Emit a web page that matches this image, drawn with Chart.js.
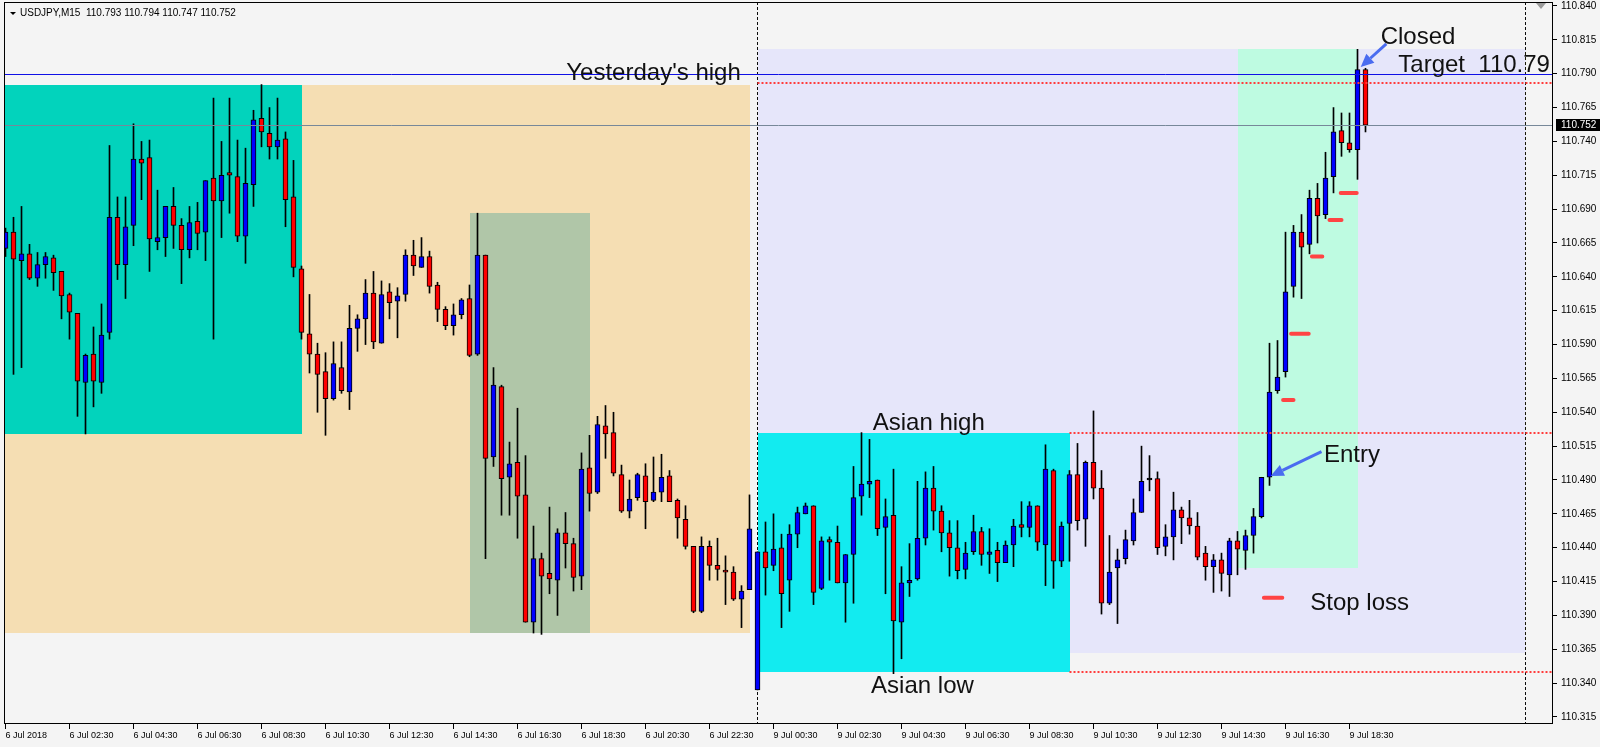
<!DOCTYPE html>
<html>
<head>
<meta charset="utf-8">
<script src="https://cdn.jsdelivr.net/npm/chart.js@4.4.0/dist/chart.umd.min.js"></script>
<style>
  html, body { margin: 0; padding: 0; background: #f4f4f4; }
  #wrap { width: 1600px; height: 747px; }
</style>
</head>
<body>
<div id="wrap"><canvas id="chart"></canvas></div>
<script>
// USDJPY M15, 6 Jul 00:30 .. 9 Jul 19:00 (bar index 0..170)
const opens = [
  110.661,110.673,110.652,110.657,110.639,110.649,110.654,110.644,110.627,110.613,
  110.562,110.583,110.562,110.599,110.684,110.649,110.678,110.727,110.728,110.666,
  110.669,110.692,110.678,110.660,110.681,110.673,110.713,110.696,110.717,110.714,
  110.670,110.708,110.757,110.746,110.736,110.742,110.699,110.646,110.598,110.583,
  110.570,110.550,110.573,110.555,110.602,110.609,110.628,110.591,110.629,110.622,
  110.627,110.656,110.647,110.655,110.634,110.616,110.604,110.612,110.624,110.583,
  110.656,110.507,110.559,110.492,110.503,110.479,110.385,110.432,110.421,110.416,
  110.451,110.443,110.419,110.499,110.481,110.530,110.525,110.494,110.467,110.477,
  110.493,110.475,110.481,110.493,110.475,110.461,110.441,110.393,110.441,110.427,
  110.423,110.422,110.402,110.409,110.335,110.437,110.427,110.440,110.416,110.450,
  110.465,110.471,110.410,110.446,110.444,110.414,110.435,110.478,110.487,110.490,
  110.455,110.464,110.385,110.414,110.417,110.447,110.484,110.467,110.451,110.440,
  110.424,110.437,110.452,110.435,110.438,110.429,110.442,110.457,110.455,110.471,
  110.442,110.497,110.430,110.458,110.494,110.461,110.503,110.484,110.399,110.425,
  110.432,110.445,110.466,110.490,110.491,110.441,110.448,110.468,110.462,110.456,
  110.436,110.426,110.431,110.420,110.445,110.438,110.449,110.463,110.492,110.556,
  110.570,110.633,110.673,110.664,110.698,110.686,110.714,110.748,110.739,110.734,
  110.793
];
const highs = [
  110.676,110.684,110.692,110.664,110.658,110.658,110.656,110.644,110.628,110.613,
  110.583,110.603,110.620,110.737,110.699,110.699,110.753,110.740,110.741,110.704,
  110.692,110.706,110.683,110.692,110.695,110.711,110.772,110.740,110.772,110.741,
  110.735,110.763,110.782,110.765,110.772,110.747,110.726,110.648,110.627,110.591,
  110.584,110.592,110.592,110.619,110.612,110.638,110.644,110.637,110.635,110.632,
  110.660,110.667,110.669,110.659,110.636,110.618,110.620,110.624,110.634,110.687,
  110.656,110.573,110.560,110.518,110.543,110.508,110.456,110.436,110.470,110.454,
  110.466,110.447,110.510,110.523,110.537,110.545,110.540,110.501,110.490,110.495,
  110.502,110.507,110.509,110.497,110.476,110.471,110.441,110.448,110.445,110.447,
  110.434,110.426,110.412,110.479,110.437,110.459,110.465,110.450,110.457,110.470,
  110.473,110.471,110.448,110.448,110.456,110.435,110.500,110.525,110.520,110.490,
  110.476,110.498,110.426,110.443,110.489,110.496,110.500,110.471,110.460,110.460,
  110.444,110.464,110.455,110.454,110.444,110.445,110.461,110.474,110.474,110.471,
  110.516,110.498,110.459,110.497,110.517,110.504,110.541,110.497,110.449,110.439,
  110.453,110.476,110.515,110.508,110.496,110.457,110.481,110.470,110.475,110.466,
  110.441,110.435,110.436,110.447,110.452,110.453,110.469,110.492,110.591,110.593,
  110.673,110.678,110.686,110.704,110.709,110.732,110.765,110.761,110.761,110.808,
  110.794
];
const lows = [
  110.655,110.568,110.573,110.638,110.633,110.639,110.630,110.609,110.594,110.537,
  110.524,110.544,110.554,110.594,110.638,110.624,110.663,110.697,110.644,110.660,
  110.655,110.661,110.635,110.654,110.660,110.652,110.594,110.669,110.687,110.666,
  110.650,110.692,110.736,110.727,110.727,110.677,110.640,110.594,110.569,110.540,
  110.523,110.549,110.554,110.542,110.585,110.590,110.587,110.591,110.609,110.595,
  110.622,110.641,110.647,110.628,110.607,110.601,110.597,110.609,110.581,110.582,
  110.432,110.500,110.464,110.464,110.447,110.385,110.377,110.376,110.406,110.390,
  110.425,110.408,110.409,110.467,110.480,110.506,110.493,110.466,110.462,110.475,
  110.454,110.474,110.474,110.474,110.447,110.439,110.392,110.392,110.416,110.416,
  110.398,110.401,110.381,110.409,110.335,110.405,110.423,110.381,110.393,110.440,
  110.465,110.398,110.409,110.416,110.414,110.385,110.399,110.464,110.477,110.449,
  110.406,110.347,110.358,110.404,110.416,110.442,110.453,110.437,110.419,110.417,
  110.417,110.435,110.427,110.421,110.415,110.429,110.426,110.448,110.448,110.438,
  110.412,110.410,110.426,110.430,110.453,110.441,110.476,110.391,110.398,110.384,
  110.428,110.442,110.466,110.482,110.435,110.434,110.431,110.443,110.450,110.431,
  110.416,110.407,110.408,110.404,110.420,110.424,110.436,110.462,110.486,110.554,
  110.566,110.625,110.624,110.657,110.665,110.683,110.702,110.729,110.732,110.712,
  110.747
];
const closes = [
  110.673,110.653,110.657,110.639,110.649,110.655,110.643,110.626,110.614,110.563,
  110.582,110.563,110.597,110.684,110.649,110.677,110.727,110.724,110.668,110.669,
  110.692,110.678,110.660,110.680,110.672,110.711,110.696,110.715,110.715,110.670,
  110.709,110.756,110.747,110.736,110.741,110.697,110.647,110.599,110.583,110.568,
  110.550,110.576,110.556,110.602,110.609,110.628,110.592,110.627,110.621,110.626,
  110.656,110.648,110.655,110.633,110.616,110.604,110.612,110.623,110.582,110.656,
  110.506,110.560,110.491,110.502,110.478,110.385,110.432,110.419,110.417,110.451,
  110.443,110.418,110.498,110.480,110.531,110.524,110.495,110.467,110.476,110.494,
  110.474,110.481,110.492,110.474,110.462,110.441,110.393,110.441,110.427,110.424,
  110.422,110.402,110.408,110.454,110.437,110.425,110.439,110.406,110.450,110.466,
  110.471,110.407,110.445,110.444,110.414,110.435,110.477,110.487,110.489,110.454,
  110.463,110.386,110.414,110.416,110.447,110.484,110.467,110.451,110.440,110.423,
  110.436,110.452,110.435,110.437,110.429,110.442,110.456,110.455,110.471,110.444,
  110.498,110.430,110.456,110.494,110.460,110.503,110.484,110.399,110.422,110.431,
  110.446,110.466,110.489,110.490,110.440,110.448,110.468,110.462,110.456,110.433,
  110.426,110.431,110.421,110.445,110.439,110.449,110.463,110.492,110.555,110.566,
  110.629,110.673,110.662,110.698,110.685,110.713,110.747,110.739,110.734,110.793,
  110.752
];

// time axis labels and the bars they sit on
const timeLabels = [
  "6 Jul 2018","6 Jul 02:30","6 Jul 04:30","6 Jul 06:30","6 Jul 08:30","6 Jul 10:30",
  "6 Jul 12:30","6 Jul 14:30","6 Jul 16:30","6 Jul 18:30","6 Jul 20:30","6 Jul 22:30",
  "9 Jul 00:30","9 Jul 02:30","9 Jul 04:30","9 Jul 06:30","9 Jul 08:30","9 Jul 10:30",
  "9 Jul 12:30","9 Jul 14:30","9 Jul 16:30","9 Jul 18:30"
];
const tickBars = [0,8,16,24,32,40,48,56,64,72,80,88,96,104,112,120,128,136,144,152,160,168];
const priceTicks = [
  110.315,110.340,110.365,110.390,110.415,110.440,110.465,110.490,110.515,110.540,110.565,
  110.590,110.615,110.640,110.665,110.690,110.715,110.740,110.765,110.790,110.815,110.840
];

// levels
const lastPrice = 110.752;
const yesterdayHigh = 110.790;
const targetLevel = 110.783;
const asianHigh = 110.525;
const asianLow = 110.348;
const daySeparators = [94, 190];

// session boxes: [fromBar, toBar, top price, bottom price]
const sessionBoxes = [
  [-10, 93, 110.782, 110.377],
  [-10, 37, 110.782, 110.524],
  [58, 73, 110.687, 110.377],
  [94, 190, 110.808, 110.362],
  [94, 133, 110.525, 110.348],
  [154, 169, 110.808, 110.425]
];
const boxColors = ['#f5deb3', '#02d3bc', '#b0c6a8', '#e6e6fa', '#12ebf0', '#befbe1'];

// trailing stop marks
const stopLevels = [110.403, 110.549, 110.598, 110.655, 110.682, 110.702];
const stopFrom = [157.3, 159.7, 160.7, 163.3, 165.5, 166.9];
const stopTo = [159.6, 161.0, 162.9, 164.6, 167.0, 168.9];

// notes
const noteText = ["Yesterday's high", "Closed", "Target  110.79", "Asian high", "Asian low", "Entry", "Stop loss"];
const noteBar = [70.1, 171.9, 174.1, 108.4, 108.2, 164.8, 163.1];
const notePrice = [110.785, 110.812, 110.791, 110.527, 110.333, 110.503, 110.394];
const arrowFrom = [[164.5, 110.511], [172.6, 110.812]];
const arrowTo = [[158.15, 110.493], [169.4, 110.795]];

const headerText = "USDJPY,M15  110.793 110.794 110.747 110.752";

const bodies = opens.map((o, i) => ({ x: i, y: [Math.min(o, closes[i]), Math.max(o, closes[i])] }));
const wicks = lows.map((l, i) => ({ x: i, y: [l, highs[i]] }));
const bodyColors = opens.map((o, i) => closes[i] > o ? '#0000ff' : (closes[i] < o ? '#ff0000' : '#000000'));
const stopPoints = [];
stopLevels.forEach((p, i) => {
  stopPoints.push({ x: stopFrom[i], y: p }, { x: stopTo[i], y: p }, { x: stopTo[i] + 0.1, y: null });
});

function arrow(ctx, x0, y0, x1, y1) {
  const a = Math.atan2(y1 - y0, x1 - x0);
  const bx = x1 - 13 * Math.cos(a), by = y1 - 13 * Math.sin(a);
  ctx.beginPath(); ctx.moveTo(x0, y0); ctx.lineTo(bx, by); ctx.stroke();
  ctx.beginPath(); ctx.moveTo(x1, y1);
  ctx.lineTo(bx + 6 * Math.sin(a), by - 6 * Math.cos(a));
  ctx.lineTo(bx - 6 * Math.sin(a), by + 6 * Math.cos(a));
  ctx.closePath(); ctx.fill();
}

const overlay = {
  id: 'overlay',
  beforeDraw(chart) {
    const ctx = chart.ctx;
    ctx.save();
    ctx.fillStyle = '#f4f4f4';
    ctx.fillRect(0, 0, chart.width, chart.height);
    ctx.restore();
  },
  beforeDatasetsDraw(chart) {
    const { ctx, chartArea: a, scales: { x, y } } = chart;
    ctx.save();
    ctx.beginPath(); ctx.rect(a.left, a.top, a.width, a.height); ctx.clip();
    sessionBoxes.forEach((b, i) => {
      const x0 = Math.round(x.getPixelForValue(b[0])), x1 = Math.round(x.getPixelForValue(b[1]));
      const y0 = Math.round(y.getPixelForValue(b[2])), y1 = Math.round(y.getPixelForValue(b[3]));
      ctx.fillStyle = boxColors[i];
      ctx.fillRect(x0, y0, x1 - x0, y1 - y0);
    });
    // period separators, inverted like the terminal does
    ctx.globalCompositeOperation = 'difference';
    ctx.strokeStyle = '#ffffff';
    ctx.lineWidth = 1;
    ctx.setLineDash([3, 2]);
    daySeparators.forEach(b => {
      const sx = Math.floor(x.getPixelForValue(b)) + 0.5;
      ctx.beginPath(); ctx.moveTo(sx, a.top); ctx.lineTo(sx, a.bottom); ctx.stroke();
    });
    ctx.restore();
  },
  afterDatasetsDraw(chart) {
    const { ctx, chartArea: a, scales: { x, y } } = chart;
    ctx.save();
    ctx.beginPath(); ctx.rect(a.left, a.top, a.width, a.height); ctx.clip();
    const hline = (p, from, color, width, dash) => {
      const py = Math.round(y.getPixelForValue(p)) + (width % 2 ? 0.5 : 0);
      ctx.strokeStyle = color; ctx.lineWidth = width; ctx.setLineDash(dash);
      ctx.beginPath(); ctx.moveTo(from, py); ctx.lineTo(a.right, py); ctx.stroke();
    };
    hline(lastPrice, a.left, '#778899', 1, []);
    hline(yesterdayHigh, a.left, '#1010e6', 1, []);
    const sepX = x.getPixelForValue(94);
    const boxX = x.getPixelForValue(133);
    hline(targetLevel, sepX, '#ff3c3c', 2, [2, 2]);
    hline(asianHigh, boxX, '#ff3c3c', 2, [2, 2]);
    hline(asianLow, boxX, '#ff3c3c', 2, [2, 2]);
    ctx.setLineDash([]);
    ctx.strokeStyle = '#4a6cf0'; ctx.fillStyle = '#4a6cf0'; ctx.lineWidth = 3;
    arrowFrom.forEach((f, i) => {
      arrow(ctx, x.getPixelForValue(f[0]), y.getPixelForValue(f[1]),
        x.getPixelForValue(arrowTo[i][0]), y.getPixelForValue(arrowTo[i][1]));
    });
    ctx.fillStyle = '#111';
    ctx.font = '24px "Liberation Sans", Arial, sans-serif';
    ctx.textBaseline = 'alphabetic';
    ctx.textAlign = 'left';
    noteText.forEach((t, i) => {
      ctx.fillText(t, x.getPixelForValue(noteBar[i]), y.getPixelForValue(notePrice[i]));
    });
    ctx.restore();
  },
  afterDraw(chart) {
    const { ctx, chartArea: a, scales: { y } } = chart;
    ctx.save();
    ctx.strokeStyle = '#000'; ctx.lineWidth = 1;
    ctx.strokeRect(a.left + 0.5, a.top + 0.5, a.width - 1, a.height - 1);
    // header
    ctx.fillStyle = '#000';
    ctx.beginPath(); ctx.moveTo(10, 12); ctx.lineTo(16, 12); ctx.lineTo(13, 15); ctx.closePath(); ctx.fill();
    ctx.font = '10px "Liberation Sans", Arial, sans-serif';
    ctx.textBaseline = 'alphabetic';
    ctx.fillText(headerText, 20, 16);
    // current price tag on the axis
    const py = Math.round(y.getPixelForValue(lastPrice));
    ctx.fillStyle = '#000';
    ctx.fillRect(a.right + 3, py - 6, 44, 12);
    ctx.fillStyle = '#fff';
    ctx.textBaseline = 'middle';
    ctx.fillText(lastPrice.toFixed(3), a.right + 8, py + 0.5);
    // chart shift marker
    ctx.fillStyle = '#9a9a9a';
    ctx.beginPath(); ctx.moveTo(a.right - 17, a.top + 1); ctx.lineTo(a.right - 7, a.top + 1); ctx.lineTo(a.right - 12, a.top + 7); ctx.closePath(); ctx.fill();
    ctx.restore();
  }
};

Chart.defaults.font.family = '"Liberation Sans", Arial, sans-serif';

new Chart(document.getElementById('chart'), {
  type: 'bar',
  data: {
    datasets: [
      {
        type: 'line',
        data: stopPoints,
        borderColor: '#ff4444',
        borderWidth: 4,
        borderCapStyle: 'round',
        pointRadius: 0,
        spanGaps: false,
        order: 0
      },
      {
        data: bodies,
        backgroundColor: bodyColors,
        borderColor: '#000',
        borderWidth: 1,
        borderSkipped: false,
        barThickness: 5,
        minBarLength: 2,
        grouped: false,
        order: 1
      },
      {
        data: wicks,
        backgroundColor: '#000',
        borderWidth: 0,
        barThickness: 1,
        grouped: false,
        order: 2
      }
    ]
  },
  options: {
    responsive: true,
    maintainAspectRatio: false,
    animation: false,
    events: [],
    layout: { padding: { left: 4, top: 2, right: 0, bottom: 0 } },
    plugins: { legend: { display: false }, tooltip: { enabled: false } },
    scales: {
      x: {
        type: 'linear',
        position: 'bottom',
        offset: false,
        min: -0.1875,
        max: 193.4375,
        afterBuildTicks: ax => { ax.ticks = tickBars.map(v => ({ value: v })); },
        afterFit: ax => { ax.height = 23; ax.paddingLeft = 0; ax.paddingRight = 0; },
        ticks: {
          autoSkip: false,
          maxRotation: 0,
          align: 'start',
          padding: 1,
          color: '#000',
          font: { size: 9 },
          callback: (v, i) => timeLabels[i]
        },
        grid: { offset: false, drawOnChartArea: false, drawTicks: true, tickLength: 5, color: '#000' },
        border: { display: false }
      },
      y: {
        type: 'linear',
        position: 'right',
        min: 110.30983,
        max: 110.84295,
        afterBuildTicks: ax => { ax.ticks = priceTicks.map(v => ({ value: v })); },
        afterFit: ax => { ax.width = 47; ax.paddingTop = 0; ax.paddingBottom = 0; },
        ticks: {
          color: '#000',
          padding: 4,
          font: { size: 10 },
          callback: v => v.toFixed(3)
        },
        grid: { drawOnChartArea: false, drawTicks: true, tickLength: 4, color: '#000' },
        border: { display: false }
      }
    }
  },
  plugins: [overlay]
});
</script>
</body>
</html>
